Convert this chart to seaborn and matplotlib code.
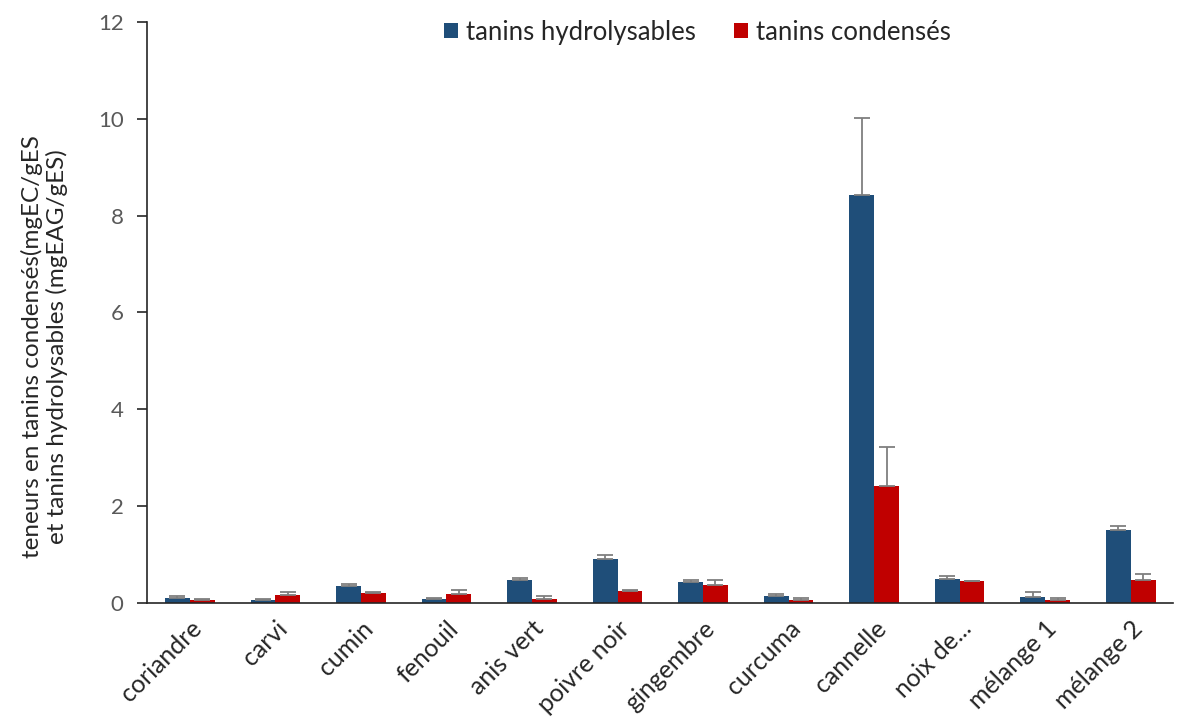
import matplotlib
matplotlib.use("Agg")
import matplotlib.pyplot as plt
import seaborn as sns
import pandas as pd
import numpy as np
from matplotlib.patches import Patch

# Spice samples and tannin contents (mean and standard deviation)
categories = ["coriandre", "carvi", "cumin", "fenouil", "anis vert", "poivre noir",
              "gingembre", "curcuma", "cannelle", "noix de...", "mélange 1", "mélange 2"]
hydrolysables = [0.10, 0.05, 0.35, 0.08, 0.47, 0.90, 0.44, 0.145, 8.42, 0.50, 0.13, 1.50]
hydrolysables_sd = [0.05, 0.02, 0.04, 0.03, 0.04, 0.09, 0.03, 0.045, 1.59, 0.05, 0.09, 0.09]
condenses = [0.05, 0.17, 0.21, 0.18, 0.09, 0.25, 0.37, 0.06, 2.42, 0.45, 0.06, 0.48]
condenses_sd = [0.02, 0.06, 0.02, 0.09, 0.06, 0.02, 0.10, 0.04, 0.79, 0.01, 0.04, 0.11]
series = ["tanins hydrolysables", "tanins condensés"]
yticks = [0, 2, 4, 6, 8, 10, 12]

colors = ["#1F4E79", "#C00000"]
tick_color = "#595959"
text_color = "#262626"

sns.set_theme(style="white")
plt.rcParams["font.family"] = ["Lato", "DejaVu Sans"]

df = pd.DataFrame({
    "espece": categories * 2,
    "valeur": hydrolysables + condenses,
    "serie": [series[0]] * len(categories) + [series[1]] * len(categories),
})

fig = plt.figure(figsize=(11.77, 7.22), dpi=100)
ax = fig.add_axes([0.125, 0.165, 0.872, 0.8045])

sns.barplot(data=df, x="espece", y="valeur", hue="serie", palette=colors,
            width=0.58, errorbar=None, ax=ax, legend=False, saturation=1,
            edgecolor="none", linewidth=0)

# upper-only error bars on each bar
for cont, sds in zip(ax.containers, [hydrolysables_sd, condenses_sd]):
    xs = [p.get_x() + p.get_width() / 2 for p in cont.patches]
    hs = [p.get_height() for p in cont.patches]
    ax.errorbar(xs, hs, yerr=[np.zeros(len(sds)), sds], fmt="none",
                ecolor="#7F7F7F", elinewidth=1.3, capsize=5.8, capthick=1.3)

ax.set_ylim(0, 12)
ax.set_xlim(-0.5, len(categories) - 0.5)
ax.set_yticks(yticks)
ax.set_yticklabels([str(t) for t in yticks], fontsize=16, color=tick_color)
ax.tick_params(axis="y", direction="out", length=7, width=1.2, color=text_color, left=True, pad=10)
ax.tick_params(axis="x", length=0, pad=10)
ax.set_xticks(range(len(categories)))
ax.set_xticklabels(categories, rotation=45, ha="right", rotation_mode="anchor",
                   fontsize=18, color=text_color)
ax.set_xlabel("")
ax.set_ylabel("teneurs en tanins condensés(mgEC/gES\net tanins hydrolysables (mgEAG/gES)",
              fontsize=17.5, color=text_color, linespacing=1.15)
ax.yaxis.set_label_coords(-0.077, 0.442)

for s in ["top", "right"]:
    ax.spines[s].set_visible(False)
ax.spines["left"].set_color(text_color)
ax.spines["left"].set_linewidth(1.2)
ax.spines["bottom"].set_color(text_color)
ax.spines["bottom"].set_linewidth(1.2)

handles = [Patch(facecolor=c, edgecolor="none") for c in colors]
ax.legend(handles, series, loc="upper center", bbox_to_anchor=(0.536, 1.044), ncol=2,
          frameon=False, fontsize=18.5, handlelength=0.55, handleheight=0.55,
          handletextpad=0.3, columnspacing=1.5, labelcolor=text_color)

fig.savefig("out.png", dpi=100)
